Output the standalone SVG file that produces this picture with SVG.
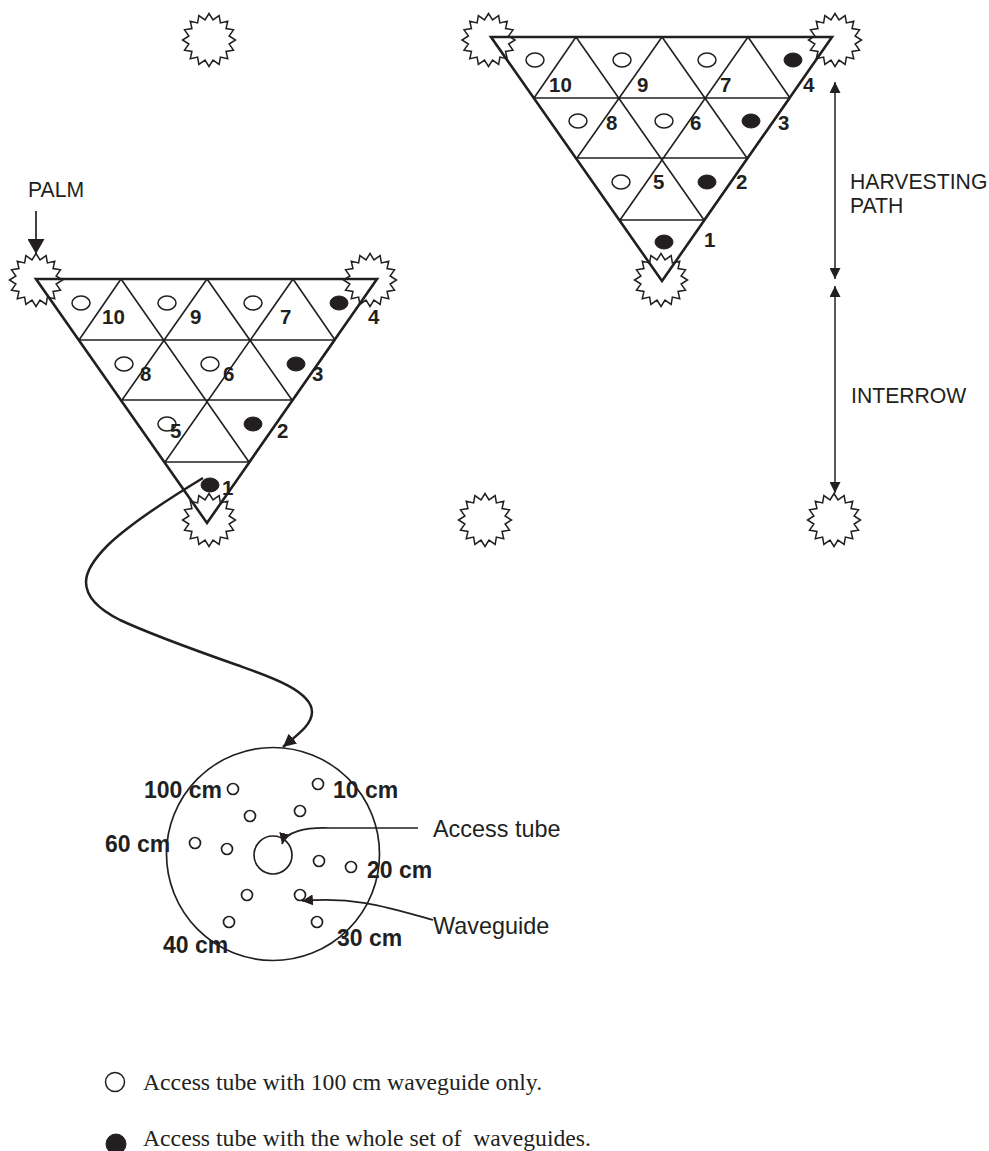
<svg xmlns="http://www.w3.org/2000/svg" width="989" height="1151" viewBox="0 0 989 1151">
<style>
text{font-family:"Liberation Sans",Arial,sans-serif;fill:#231f20}
.n{font-weight:bold;font-size:20.500px}
.c{font-weight:bold;font-size:23px}
.l{font-size:21.200px}
.k{font-size:23.400px}
.s{font-family:"Liberation Serif","Times New Roman",serif;font-size:23.700px}
.m{fill:none;stroke:#231f20;stroke-width:1.6}
.o{fill:none;stroke:#231f20;stroke-width:2.6}
.st{fill:none;stroke:#231f20;stroke-width:1.5}
.f{fill:#231f20;stroke:#231f20;stroke-width:1}
.w{fill:none;stroke:#231f20;stroke-width:1.5}
.a{fill:none;stroke:#231f20;stroke-width:1.7}
</style>
<defs>
<polygon id="star" class="st" points="0,-26.5 4,-20.11 10.14,-24.48 11.39,-17.05 18.74,-18.74 17.05,-11.39 24.48,-10.14 20.11,-4 26.5,0 20.11,4 24.48,10.14 17.05,11.39 18.74,18.74 11.39,17.05 10.14,24.48 4,20.11 0,26.5 -4,20.11 -10.14,24.48 -11.39,17.05 -18.74,18.74 -17.05,11.39 -24.48,10.14 -20.11,4 -26.5,0 -20.11,-4 -24.48,-10.14 -17.05,-11.39 -18.74,-18.74 -11.39,-17.05 -10.14,-24.48 -4,-20.11"/>
<g id="grid">
<path class="m" d="M79,340H335M122,400H292M165,462H249M121,279L79,340M207,279L122,400M293,279L165,462M335,340L249,462M121,279L249,462M207,279L292,400M293,279L335,340"/>
<path class="o" d="M36,279H377L207,523Z"/>
</g>
<marker id="big" markerUnits="userSpaceOnUse" markerWidth="16" markerHeight="17" refX="15" refY="8.5" orient="auto"><path d="M0,0L15,8.5L0,17Z" fill="#231f20"/></marker>
<marker id="cur" markerUnits="userSpaceOnUse" markerWidth="14" markerHeight="13" refX="13" refY="6.5" orient="auto"><path d="M0,0L13,6.5L0,13Z" fill="#231f20"/></marker>
<marker id="mid" markerUnits="userSpaceOnUse" markerWidth="12" markerHeight="11" refX="11" refY="5.5" orient="auto"><path d="M0,0L11,5.5L0,11Z" fill="#231f20"/></marker>
<marker id="mids" markerUnits="userSpaceOnUse" markerWidth="12" markerHeight="11" refX="0" refY="5.5" orient="auto"><path d="M11,0L0,5.5L11,11Z" fill="#231f20"/></marker>
</defs>

<g id="palm-free-1"><use href="#star" x="209" y="40"/></g>
<g id="palm-free-2"><use href="#star" x="485" y="520"/></g>
<g id="palm-free-3"><use href="#star" x="834" y="520"/></g>

<g id="plot-left">
<use href="#grid"/>
<use href="#star" x="36" y="280"/><use href="#star" x="370" y="280"/><use href="#star" x="209" y="520"/>
<ellipse class="w" cx="81" cy="303" rx="9" ry="7"/><ellipse class="w" cx="167" cy="303" rx="9" ry="7"/><ellipse class="w" cx="253" cy="303" rx="9" ry="7"/><ellipse class="f" cx="339" cy="303" rx="9" ry="7"/>
<ellipse class="w" cx="124" cy="364" rx="9" ry="7"/><ellipse class="w" cx="210" cy="364" rx="9" ry="7"/><ellipse class="f" cx="296" cy="364" rx="9" ry="7"/>
<ellipse class="w" cx="167" cy="424" rx="9" ry="7"/><ellipse class="f" cx="253" cy="424" rx="9" ry="7"/>
<ellipse class="f" cx="210" cy="485" rx="9" ry="7"/>
<text class="n" x="102" y="324">10</text><text class="n" x="190" y="324">9</text><text class="n" x="280" y="324">7</text><text class="n" x="368" y="324">4</text>
<text class="n" x="140" y="381">8</text><text class="n" x="223" y="381">6</text><text class="n" x="312" y="381">3</text>
<text class="n" x="170" y="438">5</text><text class="n" x="277" y="438">2</text><text class="n" x="222" y="495">1</text>
</g>

<g id="plot-right">
<use href="#grid" x="455" y="-242"/>
<use href="#star" x="488.500" y="40"/><use href="#star" x="835" y="40"/><use href="#star" x="661" y="280"/>
<ellipse class="w" cx="535" cy="60" rx="9" ry="7"/><ellipse class="w" cx="622" cy="60" rx="9" ry="7"/><ellipse class="w" cx="707" cy="60" rx="9" ry="7"/><ellipse class="f" cx="793" cy="60" rx="9" ry="7"/>
<ellipse class="w" cx="578" cy="121" rx="9" ry="7"/><ellipse class="w" cx="664" cy="121" rx="9" ry="7"/><ellipse class="f" cx="751" cy="121" rx="9" ry="7"/>
<ellipse class="w" cx="621" cy="182" rx="9" ry="7"/><ellipse class="f" cx="707" cy="182" rx="9" ry="7"/>
<ellipse class="f" cx="664" cy="242" rx="9" ry="7"/>
<text class="n" x="549" y="92">10</text><text class="n" x="637" y="92">9</text><text class="n" x="720" y="92">7</text><text class="n" x="803" y="92">4</text>
<text class="n" x="606" y="130">8</text><text class="n" x="690" y="130">6</text><text class="n" x="778" y="130">3</text>
<text class="n" x="653" y="189">5</text><text class="n" x="736" y="189">2</text><text class="n" x="704" y="247">1</text>
</g>

<g id="tube-section">
<circle class="a" cx="273" cy="854" r="106.500"/>
<circle class="a" cx="273" cy="855" r="19"/>
<circle class="a" cx="233" cy="789" r="5.500"/><circle class="a" cx="318" cy="784" r="5.500"/><circle class="a" cx="250" cy="816" r="5.500"/><circle class="a" cx="300" cy="811" r="5.500"/>
<circle class="a" cx="195" cy="843" r="5.500"/><circle class="a" cx="227" cy="849" r="5.500"/><circle class="a" cx="319" cy="861" r="5.500"/><circle class="a" cx="351" cy="867" r="5.500"/>
<circle class="a" cx="247" cy="895" r="5.500"/><circle class="a" cx="300" cy="895" r="5.500"/><circle class="a" cx="229" cy="922" r="5.500"/><circle class="a" cx="317" cy="922" r="5.500"/>
<text class="c" x="144" y="798">100 cm</text><text class="c" x="333" y="798">10 cm</text><text class="c" x="105" y="852">60 cm</text><text class="c" x="367" y="878">20 cm</text><text class="c" x="163" y="953">40 cm</text><text class="c" x="337" y="946">30 cm</text>
<text class="k" x="433" y="837">Access tube</text><text class="k" x="433" y="934">Waveguide</text>
</g>

<g id="labels">
<text class="l" x="28" y="197">PALM</text>
<text class="l" x="850" y="189">HARVESTING</text><text class="l" x="850" y="213">PATH</text>
<text class="l" x="851" y="403">INTERROW</text>
</g>

<g id="connectors">
<path class="a" d="M36,211V254" marker-end="url(#big)"/>
<path class="a" d="M835,82V279" marker-start="url(#mids)" marker-end="url(#mid)" style="stroke-width:1.500"/>
<path class="a" d="M835,286V493" marker-start="url(#mids)" marker-end="url(#mid)" style="stroke-width:1.500"/>
<path class="a" d="M203,478C170,498 132,522 108,545C95,558 86,570 86,582C86,598 100,610 120,620C150,634 200,652 237,665C265,675 312,690 312,712C312,725 297,735 283,747" marker-end="url(#cur)" style="stroke-width:2.500"/>
<path class="a" d="M418,828H330C305,827 285,832 282,844" marker-end="url(#mid)"/>
<path class="a" d="M433,920C390,908 355,896 302,901" marker-end="url(#mid)"/>
</g>

<g id="legend">
<circle class="w" cx="115" cy="1082" r="9.500"/>
<circle class="f" cx="116" cy="1144" r="10"/>
<text class="s" x="143" y="1090">Access tube with 100 cm waveguide only.</text>
<text class="s" x="143" y="1146" xml:space="preserve">Access tube with the whole set of  waveguides.</text>
</g>
</svg>
